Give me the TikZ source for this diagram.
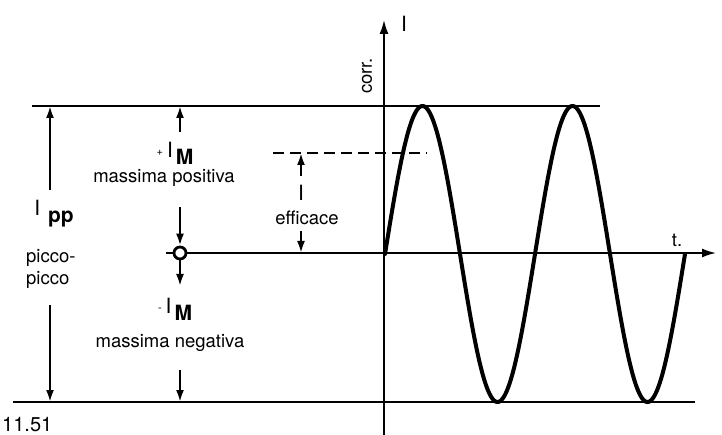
\documentclass[tikz,border=0pt]{standalone}
\usepackage{fontspec}
\setmainfont{TeX Gyre Heros}
\usetikzlibrary{arrows.meta,positioning}

\begin{document}
\begin{tikzpicture}[x=1pt,y=-1pt,
  dim/.style={-{Latex[length=12pt,width=8pt]},line width=2.2pt},
  lbl/.style={font=\fontsize{18.5}{22}\selectfont,inner sep=0pt},
  big/.style={font=\fontsize{21}{24}\selectfont,inner sep=0pt},
  rule/.style={line width=1.7pt}]
  \useasboundingbox (0,0) rectangle (722,435);

  % axes and limit lines
  \coordinate (origin) at (384,253);
  \coordinate (yend) at (384,20);
  \coordinate (ybot) at (384,440);
  \coordinate (tend) at (716,253);
  \draw[rule,-{Latex[length=14pt,width=9pt]}] (ybot)--(yend);
  \draw[rule,-{Latex[length=14pt,width=9pt]}] (166,253)--(tend);
  \draw[line width=2pt] (32,106)--(600,106);
  \draw[line width=2pt] (13,402)--(695,402);

  % the current
  \draw[line width=4pt,line cap=round,domain=0:300,samples=240,smooth]
    plot ({385+\x},{254-148*sin(2.4*\x)});

  % rms level
  \draw[line width=1.8pt,dash pattern=on 11pt off 6pt] (273,153)--(427,153);

  % zero mark
  \node[circle,draw,line width=2.8pt,minimum size=12pt,inner sep=0pt,fill=white] (zero) at (180,253) {};

  % peak to peak
  \node[big] (ipp) at (54,214) {I\hspace{8pt}\raisebox{-7pt}{\bfseries pp}};
  \node[lbl,align=left,anchor=north west] (picco) at (26,249) {picco-\\picco};
  \draw[dim] (50,190)--(50,106);
  \draw[dim] (50,305)--(50,402);

  % positive peak
  \node[big] (ipos) at (175,153) {\raisebox{2pt}{\fontsize{11}{11}\selectfont+}\hspace{4pt}I\hspace{3pt}\raisebox{-7pt}{\bfseries M}};
  \node[lbl] (mpos) at (164,178) {massima positiva};
  \draw[dim] (180,132)--(180,106);
  \draw[dim] (180,207)--(zero.north);

  % negative peak
  \node[big] (ineg) at (175,309) {\raisebox{2pt}{\fontsize{11}{11}\selectfont-}\hspace{4pt}I\hspace{3pt}\raisebox{-7pt}{\bfseries M}};
  \node[lbl] (mneg) at (170,343) {massima negativa};
  \draw[dim] (zero.south)--(180,286);
  \draw[dim] (180,370)--(180,402);

  % rms value
  \node[big] (ieff) at (301,193) {I};
  \node[lbl] (eff) at (307,218) {efficace};
  \draw[dim] (301,176)--(301,153);
  \draw[dim] (301,231)--(origin -| 301,0);

  % axis labels
  \node[lbl,rotate=90] (corr) at (367,76) {corr.};
  \node[big] (ilab) at (404,24) {I};
  \node[lbl] (tlab) at (677,240) {t.};
  \node[lbl,font=\fontsize{20}{22}\selectfont,anchor=south west] (fig) at (2,432) {11.51};
\end{tikzpicture}
\end{document}
